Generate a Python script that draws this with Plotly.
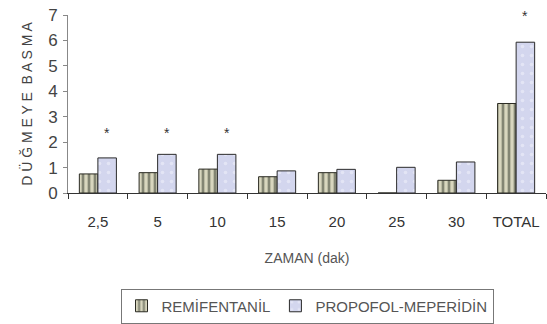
import plotly.graph_objects as go

categories = ["2,5", "5", "10", "15", "20", "25", "30", "TOTAL"]
remifentanil = [0.75, 0.80, 0.94, 0.64, 0.80, 0.0, 0.50, 3.52]
propofol = [1.38, 1.52, 1.52, 0.87, 0.93, 1.01, 1.22, 5.93]
star_idx = [0, 1, 2, 7]
star_y = [2.36, 2.36, 2.36, 6.95]

font = "Liberation Sans, Arial, sans-serif"

fig = go.Figure()
fig.add_trace(go.Bar(
    name="REMİFENTANİL", x=categories, y=remifentanil,
    marker=dict(color="#d8d6be", line=dict(color="#2a2a22", width=1),
                pattern=dict(shape="|", fgcolor="#2e3428", bgcolor="#d8d6be", size=6, solidity=0.45)),
))
fig.add_trace(go.Bar(
    name="PROPOFOL-MEPERİDİN", x=categories, y=propofol,
    marker=dict(color="#d3d6ee", line=dict(color="#2a2a2a", width=1),
                pattern=dict(shape=".", fgcolor="#f4f4fb", bgcolor="#d3d6ee", size=9, solidity=0.12)),
))

bar_w = (1 - 0.38) / 2
for i, yv in zip(star_idx, star_y):
    fig.add_annotation(x=i + bar_w / 2, y=yv, xref="x", yref="y", text="*",
                       showarrow=False, font=dict(family=font, size=14, color="#333"))

fig.update_layout(
    width=547, height=324,
    margin=dict(l=68, r=1, t=15, b=131),
    paper_bgcolor="white", plot_bgcolor="white",
    barmode="group", bargap=0.38, bargroupgap=0,
    font=dict(family=font, color="#333"),
    showlegend=True,
    legend=dict(orientation="h", x=0.5, xanchor="center", y=-0.635, yanchor="middle",
                bordercolor="#777", borderwidth=1, font=dict(size=15, color="#555"),
                itemwidth=30, tracegroupgap=0),
    xaxis=dict(type="category", showline=True, linecolor="#333", linewidth=1, automargin=False,
               ticks="outside", tickson="boundaries", ticklen=5, tickcolor="#333",
               tickfont=dict(size=15, color="#333"), showgrid=False, ticklabelstandoff=15,
               title=dict(text="ZAMAN (dak)", font=dict(size=14, color="#555"), standoff=24)),
    yaxis=dict(range=[0, 7], dtick=1, showline=True, linecolor="#888", linewidth=1, automargin=False,
               ticks="outside", ticklen=4, tickcolor="#888", showgrid=False, zeroline=False,
               tickfont=dict(size=17, color="#444"), ticklabelstandoff=2,
               title=dict(text="D Ü Ğ M E Y E  B A S M A", font=dict(size=14, color="#444"), standoff=12)),
)

fig.write_html("out.html", config={"displayModeBar": False},
               post_script="document.body.style.margin='0';document.body.style.padding='0';")
